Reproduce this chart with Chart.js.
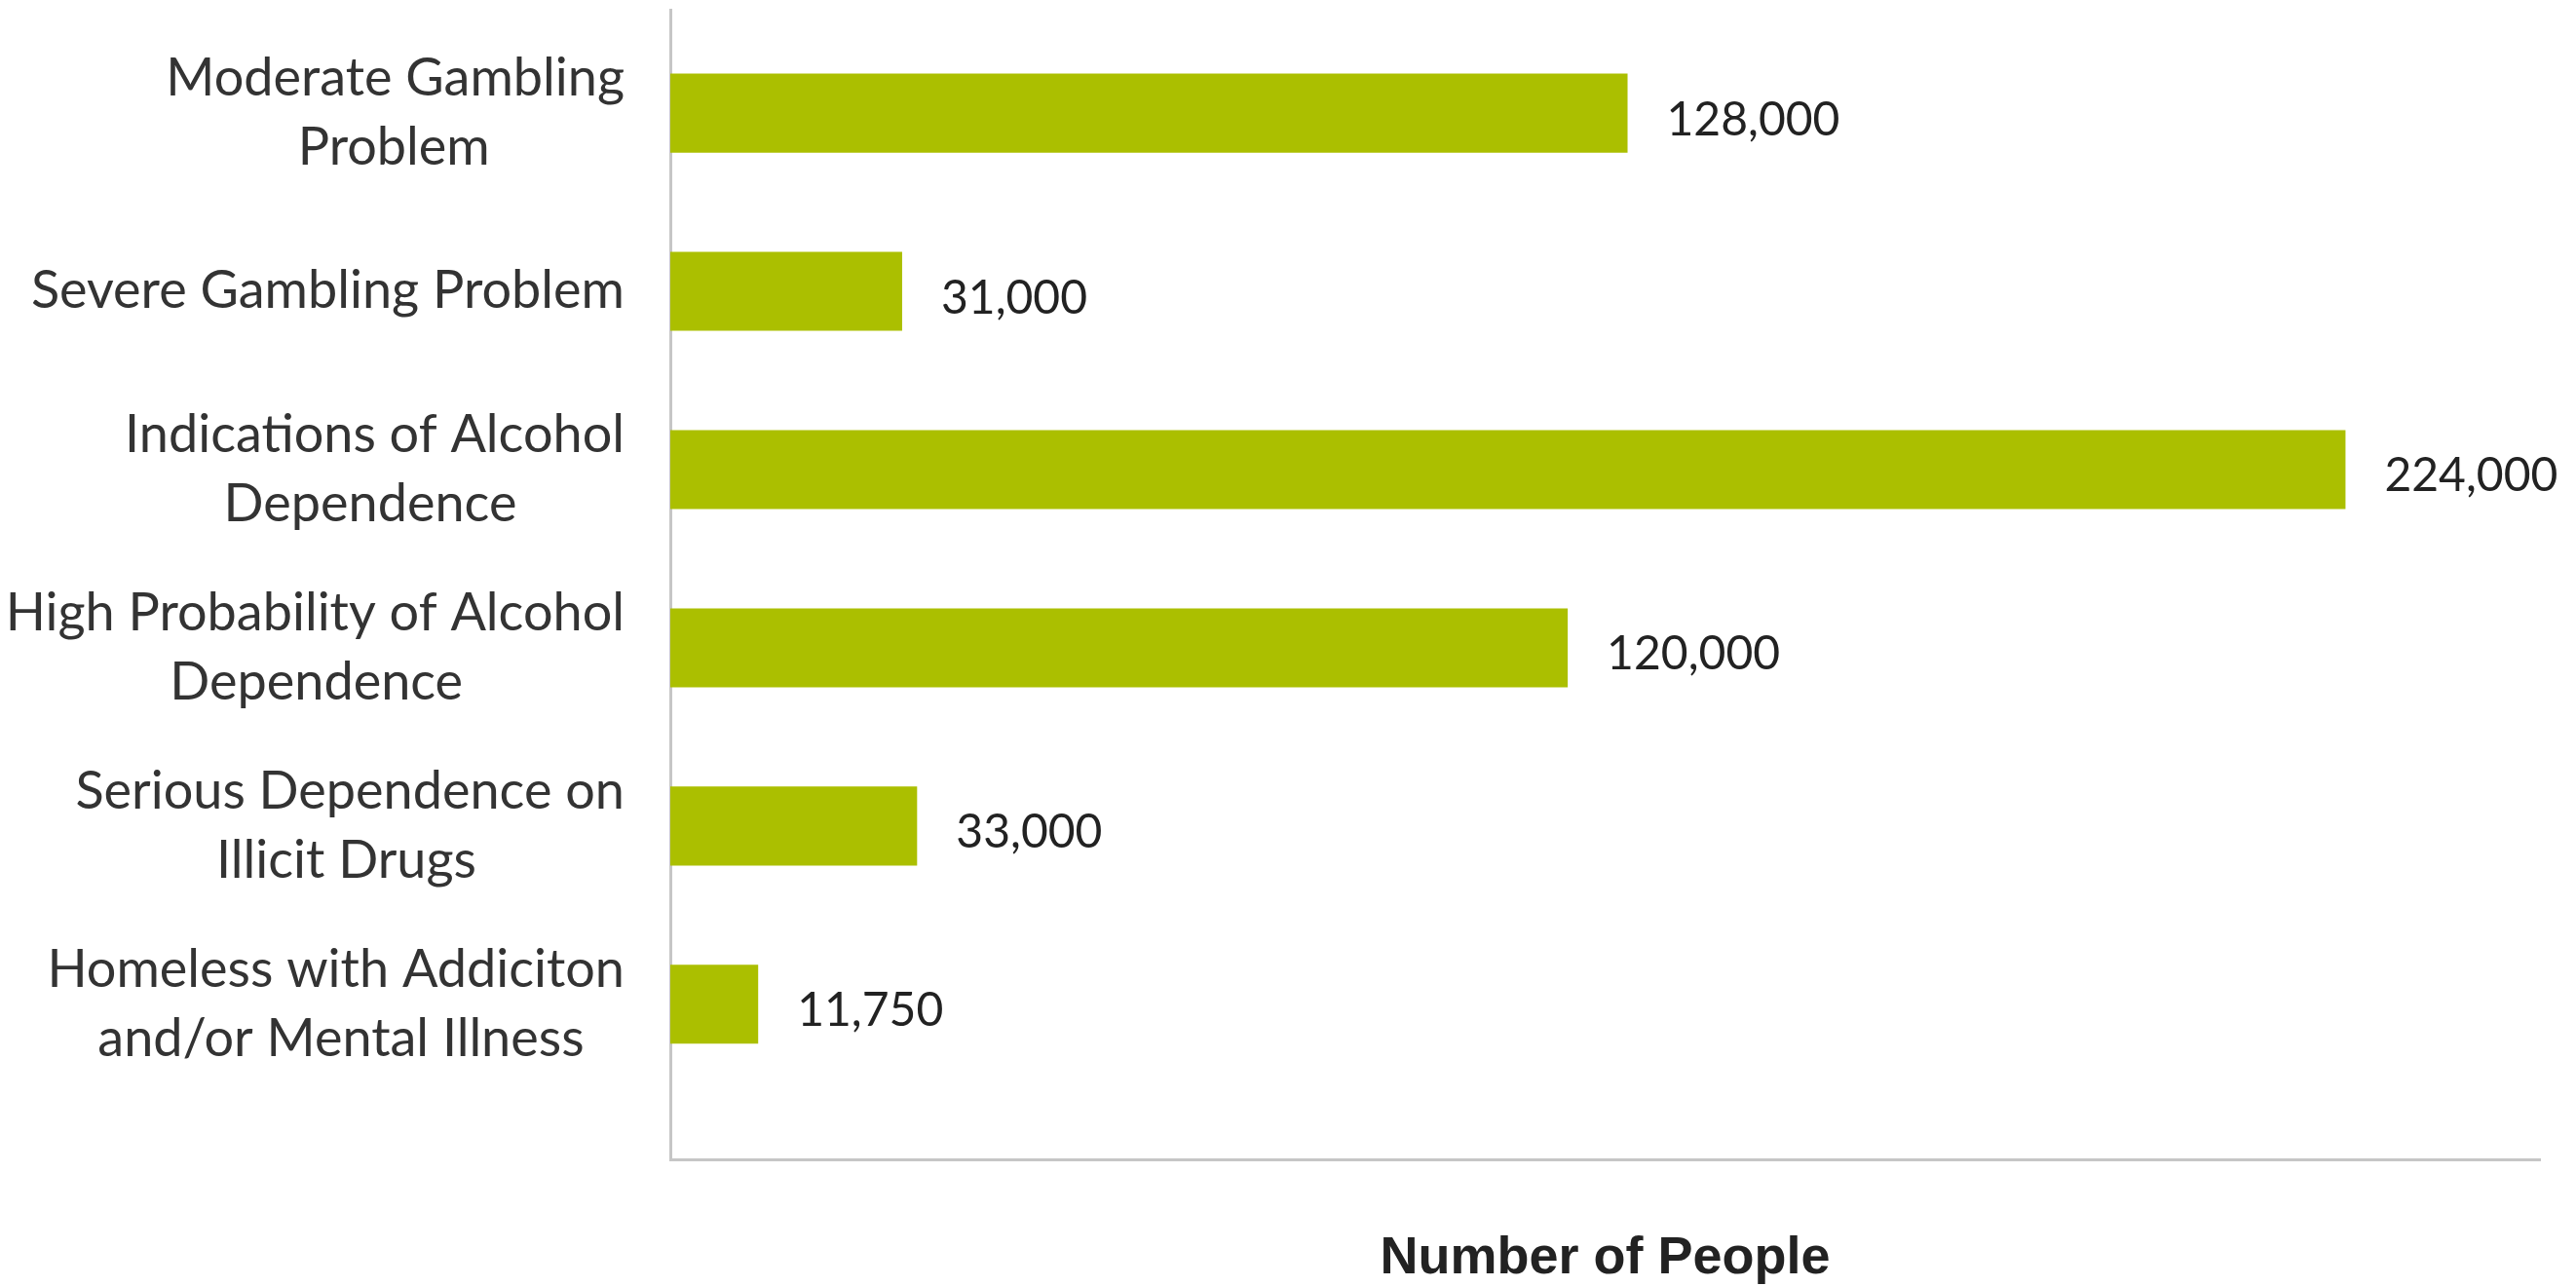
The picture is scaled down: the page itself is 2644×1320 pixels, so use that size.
<!DOCTYPE html>
<html>
<head>
<meta charset="utf-8">
<title>Number of People</title>
<script src="https://cdn.jsdelivr.net/npm/chart.js@4.4.1/dist/chart.umd.min.js"></script>
<style>
  html, body { margin: 0; padding: 0; background: #fff; }
  #wrap { width: 2644px; height: 1320px; position: relative; }
</style>
</head>
<body>
<div id="wrap"><canvas id="chart"></canvas></div>
<script>
/* categories (top to bottom) and values */
const categories = [
  ["Moderate Gambling", "Problem"],
  ["Severe Gambling Problem"],
  ["Indications of Alcohol", "Dependence"],
  ["High Probability of Alcohol", "Dependence"],
  ["Serious Dependence on", "Illicit Drugs"],
  ["Homeless with Addiciton", "and/or Mental Illness"]
];
const values = [128000, 31000, 224000, 120000, 33000, 11750];
const axisTitle = "Number of People";

const LABEL_SIZE = 54;
const BAR_COLOR = "#abbf00";
const AXIS_COLOR = "#c6c6c6";

/* lines are drawn right aligned; pad the short ones so each block reads centred */
const measureCtx = document.createElement("canvas").getContext("2d");
measureCtx.font = LABEL_SIZE + "px Lato";
function centreLines(lines) {
  const widths = lines.map(l => measureCtx.measureText(l).width);
  const widest = Math.max(...widths);
  const space = measureCtx.measureText(" ").width;
  return lines.map((l, i) => {
    const n = Math.round((widest - widths[i]) / 2 / space);
    return l + " ".repeat(n);
  });
}
const tickLabels = categories.map(centreLines);

/* value text at the end of each bar */
const valueLabels = {
  id: "valueLabels",
  afterDatasetsDraw(chart) {
    const ctx = chart.ctx;
    const meta = chart.getDatasetMeta(0);
    ctx.save();
    ctx.font = "48px Lato";
    ctx.fillStyle = "#222";
    ctx.textBaseline = "middle";
    ctx.textAlign = "left";
    meta.data.forEach((bar, i) => {
      ctx.fillText(values[i].toLocaleString("en-US"), bar.x + 40, bar.y + 7);
    });
    ctx.restore();
  }
};

new Chart(document.getElementById("chart").getContext("2d"), {
  type: "bar",
  data: {
    datasets: [{
      data: values.map((v, i) => ({ x: v, y: i })),
      backgroundColor: BAR_COLOR,
      borderWidth: 0,
      categoryPercentage: 1,
      barPercentage: 0.443
    }]
  },
  options: {
    indexAxis: "y",
    responsive: true,
    maintainAspectRatio: false,
    animation: false,
    layout: { padding: { left: 0, top: 10, right: 37, bottom: 0 } },
    plugins: {
      legend: { display: false },
      tooltip: { enabled: false }
    },
    scales: {
      x: {
        type: "linear",
        min: 0,
        max: 250000,
        grid: { display: false, drawTicks: false },
        border: { display: true, color: AXIS_COLOR, width: 3 },
        ticks: { display: false },
        title: {
          display: true,
          text: axisTitle,
          color: "#222",
          font: { family: "Liberation Sans", size: 54, weight: "bold" },
          padding: { top: 0, bottom: -5 }
        },
        afterFit(scale) { scale.height = 130; }
      },
      y: {
        type: "linear",
        reverse: true,
        offset: false,
        bounds: "data",
        min: -0.58,
        max: 5.87,
        grid: { display: false, drawTicks: false, offset: false },
        border: { display: true, color: AXIS_COLOR, width: 3 },
        ticks: {
          autoSkip: false,
          padding: 47,
          color: "#333",
          font: { family: "Lato", size: LABEL_SIZE, lineHeight: 1.32 },
          callback: v => tickLabels[v] || ""
        },
        /* one tick per category, at the bar centres */
        afterBuildTicks(scale) {
          scale.ticks = categories.map((_, i) => ({ value: i }));
        },
        afterFit(scale) {
          scale.width = 688;
          scale.paddingTop = 0;
          scale.paddingBottom = 0;
        }
      }
    }
  },
  plugins: [valueLabels]
});
</script>
</body>
</html>
